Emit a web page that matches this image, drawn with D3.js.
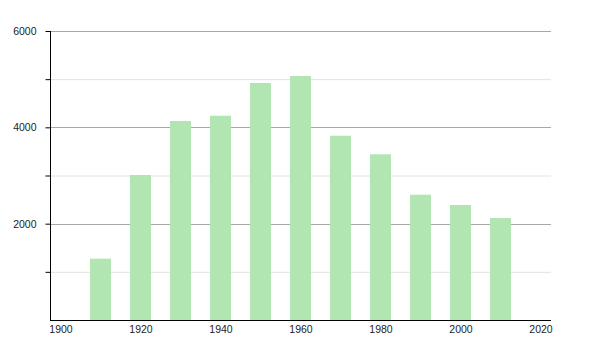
<!DOCTYPE html>
<html><head><meta charset="utf-8">
<script src="https://cdn.jsdelivr.net/npm/d3@7"></script>
<style>body{margin:0;background:#fff}svg{display:block}text{font-family:"Liberation Sans",Arial,sans-serif}</style>
</head><body><svg id="c" width="600" height="350"></svg>
<script>
const years = [1910,1920,1930,1940,1950,1960,1970,1980,1990,2000,2010];
const population = [1273,3010,4131,4241,4920,5065,3826,3440,2601,2387,2117];
const xTicks = [1900,1920,1940,1960,1980,2000,2020];
const yMajor = [2000,4000,6000];
const yMinor = [1000,3000,5000];

const svg = d3.select("#c");
const x = d3.scaleLinear().domain([1897.5,2022.75]).range([50.5,551.5]);
const y = d3.scaleLinear().domain([0,6000]).range([320,31]);
const barW = 21;

svg.append("g").selectAll("line").data(yMinor).join("line")
  .attr("x1",50).attr("x2",551).attr("y1",d=>y(d)+0.5).attr("y2",d=>y(d)+0.5)
  .attr("stroke","#e2e2e2");
svg.append("g").selectAll("line").data(yMajor).join("line")
  .attr("x1",50).attr("x2",551).attr("y1",d=>Math.round(y(d))+0.5).attr("y2",d=>Math.round(y(d))+0.5)
  .attr("stroke","#a8a8a8");

svg.append("g").selectAll("rect").data(years).join("rect")
  .attr("x",(d)=>x(d)-barW/2).attr("width",barW)
  .attr("y",(d,i)=>y(population[i])).attr("height",(d,i)=>y(0)-y(population[i]))
  .attr("fill","#b1e5b1");

const yAxis = d3.axisLeft(y).tickValues(yMajor.concat(yMinor).sort((a,b)=>a-b))
  .tickSize(5).tickFormat(d=>yMajor.includes(d)?d:"");
const gy = svg.append("g").attr("transform","translate(50.5,0)").call(yAxis);
gy.select(".domain").attr("stroke","#000").attr("d","M0,31V320");
gy.selectAll(".tick line").attr("stroke","#000");
gy.selectAll("text").attr("font-size",10.5).attr("fill","#222").attr("x",-14).attr("font-family","Liberation Sans, Arial, sans-serif");

const xAxis = d3.axisBottom(x).tickValues(xTicks).tickSize(0).tickFormat(d3.format("d"));
const gx = svg.append("g").attr("transform","translate(0,320.5)").call(xAxis);
gx.select(".domain").attr("stroke","#000").attr("d","M50,0H551");
gx.selectAll("text").attr("font-size",10.5).attr("fill","#222").attr("y",5).attr("font-family","Liberation Sans, Arial, sans-serif");
</script></body></html>
